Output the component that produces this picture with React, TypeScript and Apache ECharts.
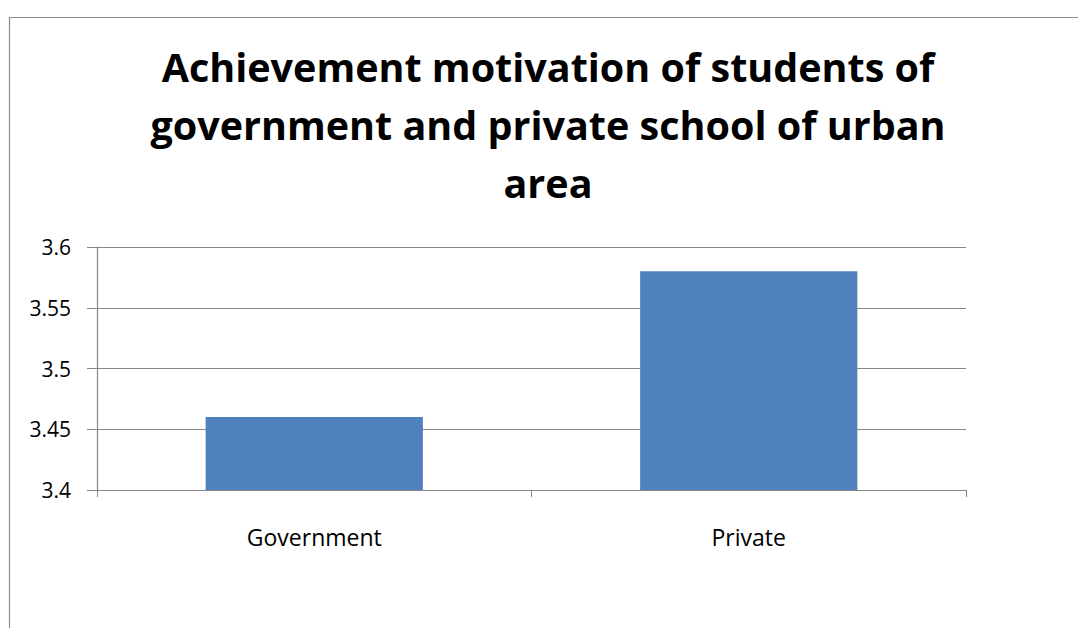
import React, { useEffect, useRef } from "react";
import * as echarts from "echarts";

const categories = ["Government", "Private"];
const values = [3.46, 3.58];
const titleText = "Achievement motivation of students of\ngovernment and private school of urban\narea";
const yMin = 3.4;
const yMax = 3.6;
const yStep = 0.05;

export default function App() {
  const ref = useRef<HTMLDivElement>(null);
  useEffect(() => {
    document.body.style.margin = "0";
    const chart = echarts.init(ref.current!, null, { renderer: "svg" });
    chart.setOption({
      animation: false,
      backgroundColor: "#ffffff",
      title: {
        text: titleText,
        left: 548,
        top: 38,
        padding: 0,
        textAlign: "center",
        textStyle: {
          fontFamily: "Open Sans",
          fontWeight: "bold",
          fontSize: 39.5,
          lineHeight: 58,
          color: "#000000",
        },
      },
      graphic: [
        {
          type: "rect",
          shape: { x: 9.5, y: 17.5, width: 1200, height: 800 },
          style: { fill: "none", stroke: "#8c8c8c", lineWidth: 1.2 },
          silent: true,
          z: -1,
        },
      ],
      grid: { left: 97, right: 112, top: 247, bottom: 138, containLabel: false },
      xAxis: {
        type: "category",
        data: categories,
        axisLine: { show: true, lineStyle: { color: "#868686", width: 1.2 } },
        axisTick: { show: true, length: 7, lineStyle: { color: "#868686" } },
        axisLabel: {
          margin: 35,
          fontFamily: "Open Sans",
          fontSize: 23,
          color: "#000000",
        },
      },
      yAxis: {
        type: "value",
        min: yMin,
        max: yMax,
        interval: yStep,
        axisLine: { show: true, lineStyle: { color: "#868686", width: 1.2 } },
        axisTick: { show: true, length: 10, inside: false, lineStyle: { color: "#868686" } },
        splitLine: { show: true, lineStyle: { color: "#868686", width: 1.2 } },
        axisLabel: {
          margin: 26,
          fontFamily: "Open Sans",
          fontSize: 21,
          color: "#000000",
          formatter: (v: number) => String(parseFloat(v.toFixed(2))),
        },
      },
      series: [
        {
          type: "bar",
          data: values,
          barWidth: "50%",
          itemStyle: { color: "#4f81bd" },
        },
      ],
    });
    return () => chart.dispose();
  }, []);
  return <div ref={ref} style={{ width: 1078, height: 628 }} />;
}
